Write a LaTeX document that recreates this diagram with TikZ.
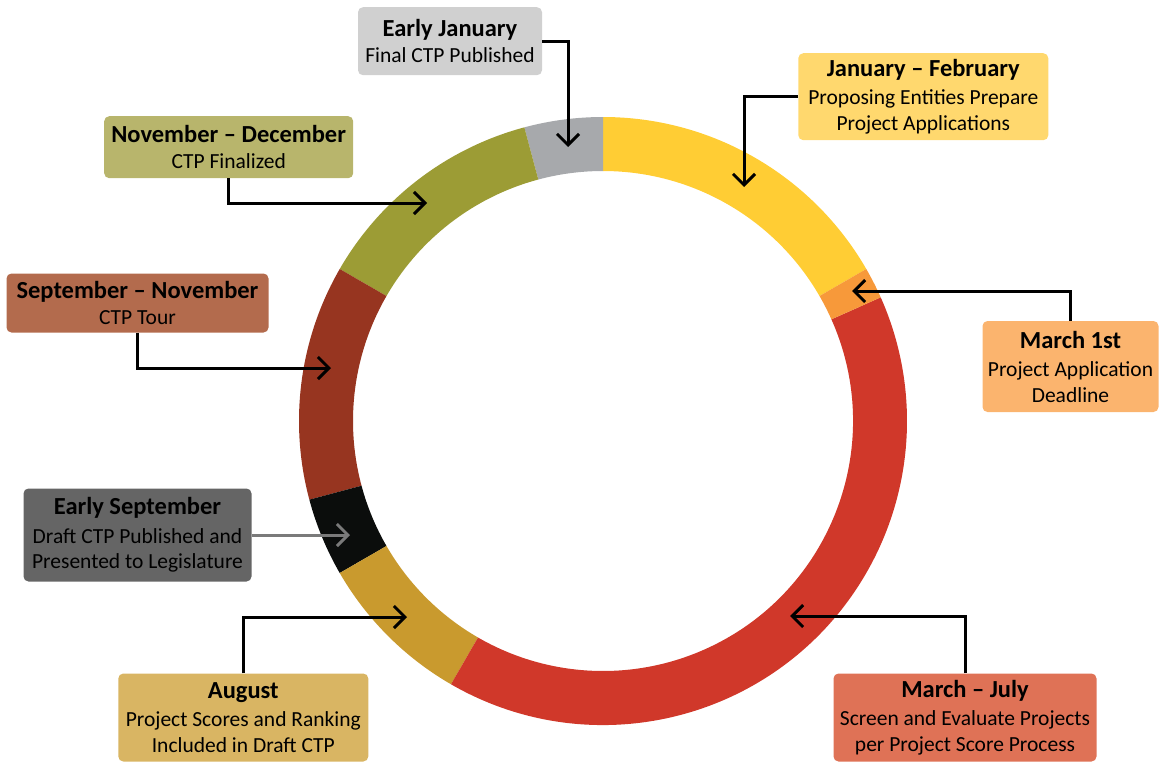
\documentclass[tikz,border=0pt]{standalone}
\usepackage{fontspec}
\setmainfont{Carlito}
\usetikzlibrary{arrows.meta,calc}
\definecolor{cgray}{HTML}{A7A9AC}
\definecolor{cyellow}{HTML}{FFCD34}
\definecolor{corange}{HTML}{F7993A}
\definecolor{cred}{HTML}{D0382A}
\definecolor{cgold}{HTML}{C99A2E}
\definecolor{cblack}{HTML}{0B0D0C}
\definecolor{cdred}{HTML}{973520}
\definecolor{colive}{HTML}{9C9C35}
\definecolor{bgray}{HTML}{D0D0D0}
\definecolor{byellow}{HTML}{FFD86E}
\definecolor{borange}{HTML}{FBB46E}
\definecolor{bred}{HTML}{DF7256}
\definecolor{bgold}{HTML}{D9B563}
\definecolor{bdgray}{HTML}{656565}
\definecolor{bbrown}{HTML}{B36B4D}
\definecolor{bolive}{HTML}{B8B56C}
\newcommand{\tb}{\fontsize{24.5}{25}\selectfont\bfseries}
\newcommand{\tr}{\fontsize{21.5}{25.5}\selectfont\mdseries}
\tikzset{
  box/.style={rounded corners=5pt, inner sep=0pt, align=center, text=black, font=\tr},
  arr/.style={line width=3pt, -{Straight Barb[length=11pt,width=22pt]}},
  garr/.style={arr, draw={rgb,255:red,122;green,122;blue,122}},
}
\newcommand{\seg}[3]{\fill[#1] ($(c)+(#2:304pt)$) arc[start angle=#2, end angle=#3, radius=304pt] -- ($(c)+(#3:250pt)$) arc[start angle=#3, end angle=#2, radius=250pt] -- cycle;}
\begin{document}
\begin{tikzpicture}[x=1pt,y=-1pt]
\useasboundingbox (0,0) rectangle (1160,763);
\coordinate (c) at (603,421);
% ring
\seg{cyellow}{30}{90}
\seg{cgray}{90}{105}
\seg{colive}{105}{150}
\seg{cdred}{150}{195}
\seg{cblack}{195}{210}
\seg{cgold}{210}{240}
\seg{cred}{240}{384}
\seg{corange}{24}{30}
% boxes
\node[box, fill=bgray, minimum width=184pt, minimum height=68pt] (ej) at (450,41.2)
  {{\tb Early January}\\[1pt]Final CTP Published};
\node[box, fill=byellow, minimum width=250pt, minimum height=87pt] (jf) at (923.3,96.7)
  {{\tb January -- February}\\[3pt]Proposing Entities Prepare\\Project Applications};
\node[box, fill=borange, minimum width=176pt, minimum height=91pt] (m1) at (1070.5,366.5)
  {{\tb March 1st}\\[3pt]Project Application\\Deadline};
\node[box, fill=bred, minimum width=263pt, minimum height=88pt] (mj) at (965,717.5)
  {{\tb March -- July}\\[3pt]Screen and Evaluate Projects\\per Project Score Process};
\node[box, fill=bgold, minimum width=250pt, minimum height=88pt] (au) at (243.3,717.5)
  {{\tb August}\\[3pt]Project Scores and Ranking\\Included in Draft CTP};
\node[box, fill=bdgray, minimum width=228pt, minimum height=93pt] (es) at (137.5,535)
  {{\tb Early September}\\[3pt]Draft CTP Published and\\Presented to Legislature};
\node[box, fill=bbrown, minimum width=262pt, minimum height=59pt] (sn) at (137.5,303)
  {{\tb September -- November}\\[1pt]CTP Tour};
\node[box, fill=bolive, minimum width=249pt, minimum height=62pt] (nd) at (228.7,147.2)
  {{\tb November -- December}\\[1pt]CTP Finalized};
% arrow tips
\coordinate (t1) at (568,147);
\coordinate (t2) at (744,187);
\coordinate (t3) at (852,291);
\coordinate (t4) at (790,616);
\coordinate (t5) at (407,617);
\coordinate (t6) at (350,535);
\coordinate (t7) at (331,368);
\coordinate (t8) at (427,203);
% connectors
\draw[arr] (ej.east) -| (t1);
\draw[arr] (jf.west) -| (t2);
\draw[arr] (m1.north) |- (t3);
\draw[arr] (mj.north) |- (t4);
\draw[arr] (au.north) |- (t5);
\draw[garr] (es.east) -- (t6);
\draw[arr] (sn.south) |- (t7);
\draw[arr] (nd.south) |- (t8);
\end{tikzpicture}
\end{document}
